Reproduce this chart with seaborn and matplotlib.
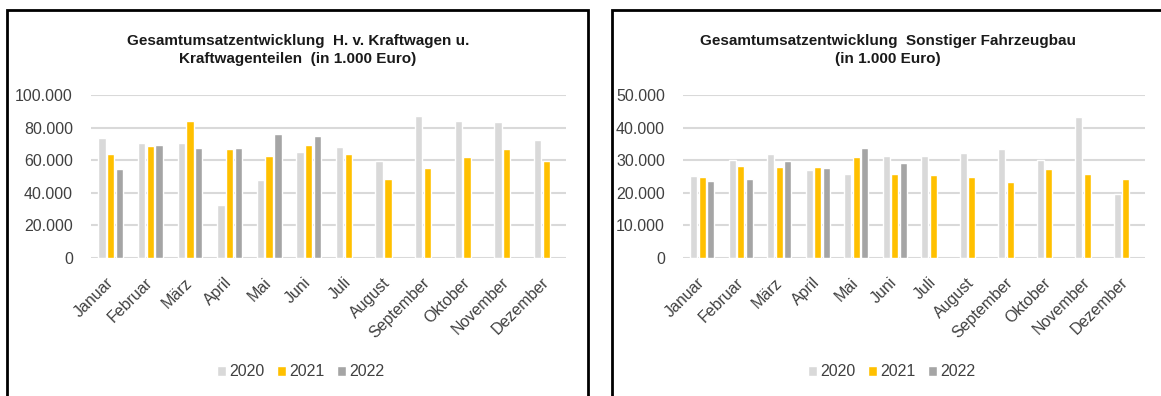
import numpy as np
import pandas as pd
import matplotlib.pyplot as plt
import seaborn as sns
from matplotlib.patches import Rectangle
from matplotlib.ticker import FuncFormatter, MultipleLocator

sns.set_style('white')
plt.rcParams['font.family'] = ['Liberation Sans', 'DejaVu Sans']

months = ['Januar', 'Februar', 'März', 'April', 'Mai', 'Juni', 'Juli',
          'August', 'September', 'Oktober', 'November', 'Dezember']
years = ['2020', '2021', '2022']
colors = ['#d9d9d9', '#ffc000', '#a5a5a5']

# Herstellung von Kraftwagen und Kraftwagenteilen (in 1.000 Euro)
kfz_2020 = [73500, 70400, 70400, 32700, 47600, 65300, 67800, 59600, 87100, 83900, 83300, 72400]
kfz_2021 = [64000, 68600, 83900, 66700, 62700, 69200, 64100, 48200, 55100, 62200, 66700, 59600]
kfz_2022 = [54500, 69200, 67300, 67300, 76300, 74900, np.nan, np.nan, np.nan, np.nan, np.nan, np.nan]

# Sonstiger Fahrzeugbau (in 1.000 Euro)
sfb_2020 = [25300, 30000, 31900, 27100, 25900, 31300, 31200, 32200, 33400, 30000, 43300, 19700]
sfb_2021 = [24700, 28200, 27800, 27800, 31000, 25900, 25500, 24800, 23300, 27400, 25800, 24200]
sfb_2022 = [23500, 24100, 29900, 27500, 33800, 29100, np.nan, np.nan, np.nan, np.nan, np.nan, np.nan]


def long_table(a, b, c):
    d = pd.DataFrame({'Monat': months, '2020': a, '2021': b, '2022': c})
    d = d.melt(id_vars='Monat', var_name='Jahr', value_name='Umsatz')
    return d.dropna()


W, H = 1161, 396
fig = plt.figure(figsize=(W / 100, H / 100), dpi=100)

# panel frames (bottom edge runs off the picture)
for x0, x1 in [(7, 588), (612, 1200)]:
    fig.patches.append(Rectangle((x0 / W, -0.05), (x1 - x0) / W, 1 - 10 / H + 0.05,
                                 transform=fig.transFigure, fill=False,
                                 edgecolor='black', linewidth=2))

panels = [
    dict(data=long_table(kfz_2020, kfz_2021, kfz_2022), ax=(91, 566), ymax=100000, step=20000,
         title=['Gesamtumsatzentwicklung  H. v. Kraftwagen u.',
                'Kraftwagenteilen  (in 1.000 Euro)'], cx=298, legx=301),
    dict(data=long_table(sfb_2020, sfb_2021, sfb_2022), ax=(683, 1145), ymax=50000, step=10000,
         title=['Gesamtumsatzentwicklung  Sonstiger Fahrzeugbau',
                '(in 1.000 Euro)'], cx=888, legx=892),
]

fmt = FuncFormatter(lambda v, p: f'{int(v):,}'.replace(',', '.'))

for p in panels:
    x0, x1 = p['ax']
    ax = fig.add_axes([x0 / W, 1 - 258 / H, (x1 - x0) / W, 163 / H])
    sns.barplot(data=p['data'], x='Monat', y='Umsatz', hue='Jahr', order=months,
                hue_order=years, palette=colors, width=0.66, gap=0.15,
                saturation=1, errorbar=None, ax=ax)
    ax.set_ylim(0, p['ymax'])
    ax.yaxis.set_major_locator(MultipleLocator(p['step']))
    ax.yaxis.set_major_formatter(fmt)
    ax.set_axisbelow(True)
    ax.grid(axis='y', color='#d9d9d9', linewidth=1.5)
    ax.grid(axis='x', visible=False)
    for s in ax.spines.values():
        s.set_visible(False)
    ax.set_xlabel('')
    ax.set_ylabel('')
    ax.tick_params(axis='both', length=0, labelsize=11.5, labelcolor='#404040')
    ax.tick_params(axis='y', pad=13)
    ax.tick_params(axis='x', pad=16)
    for lab in ax.get_xticklabels():
        lab.set_rotation(45)
        lab.set_ha('right')
        lab.set_va('center')
        lab.set_rotation_mode('anchor')

    handles, labels = ax.get_legend_handles_labels()
    ax.get_legend().remove()
    fig.legend(handles, labels, loc='center', bbox_to_anchor=(p['legx'] / W, 1 - 372 / H),
               ncol=3, frameon=False, fontsize=11.5, handlelength=0.55, handleheight=0.55,
               handletextpad=0.2, columnspacing=0.8, labelcolor='#404040')

    for txt, cy in zip(p['title'], [41, 59]):
        fig.text(p['cx'] / W, 1 - cy / H, txt, ha='center', va='center',
                 fontsize=11, fontweight='bold', color='#1a1a1a')

fig.savefig('out.png', dpi=100)
